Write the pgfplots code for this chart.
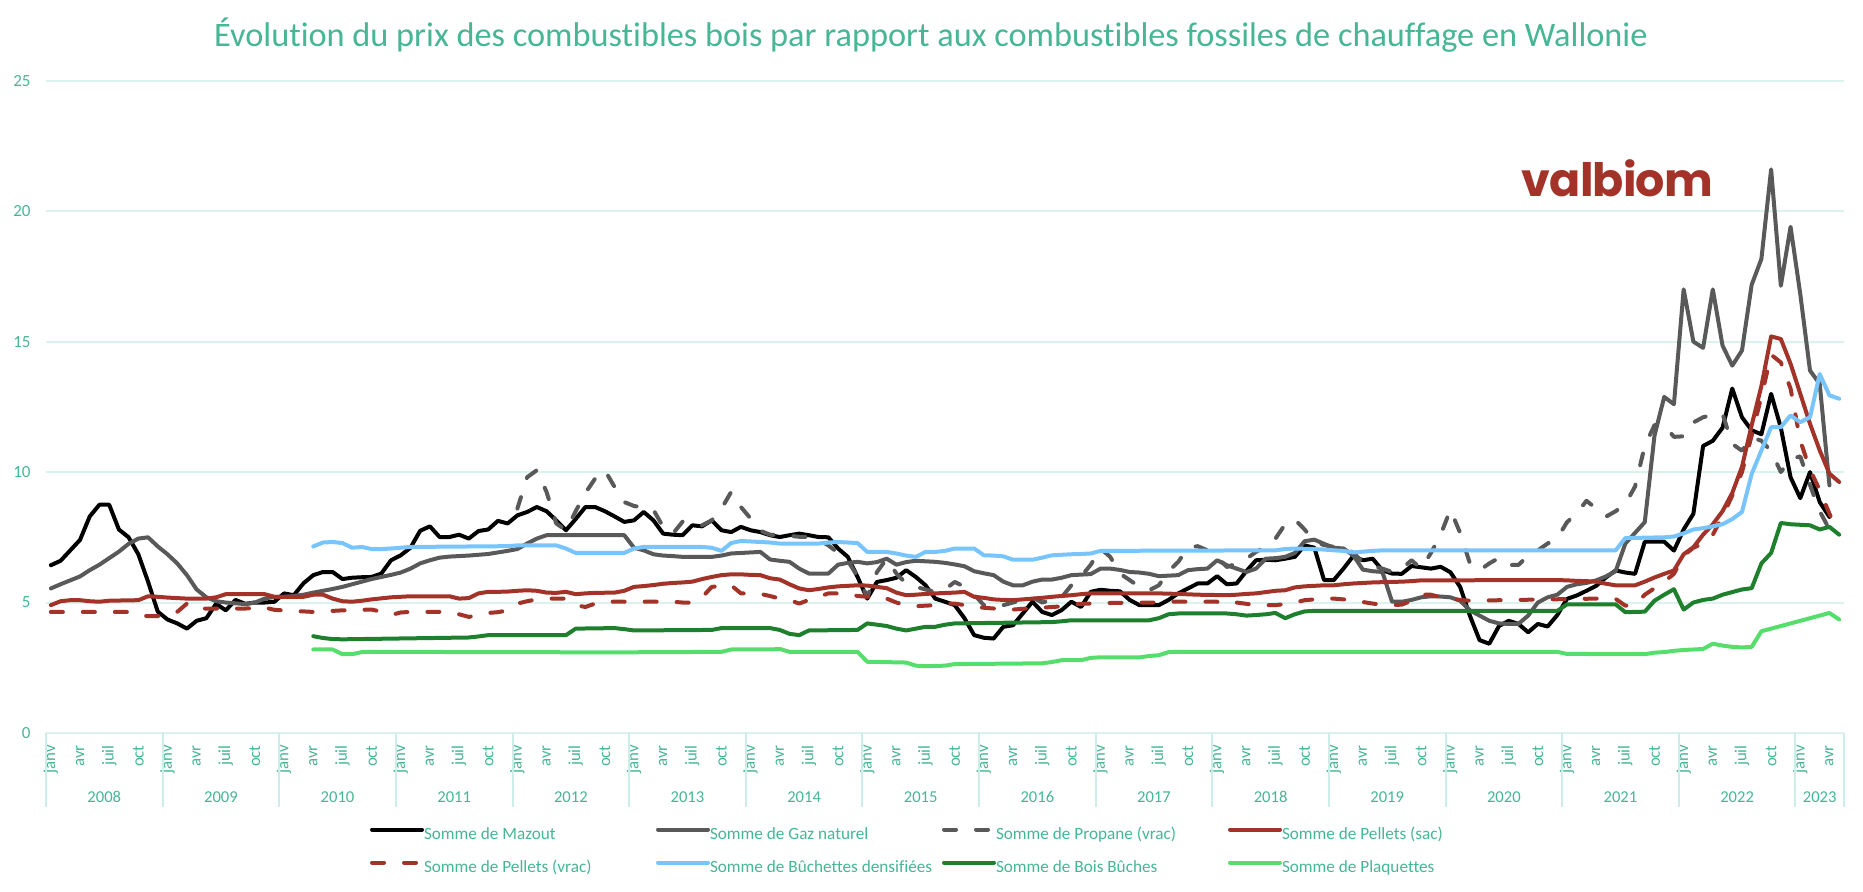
\documentclass[border=0pt]{standalone}
\usepackage{fontspec}
\setmainfont{Carlito}[Ligatures={NoCommon,NoRequired,NoContextual}]
\newfontfamily\logofont{Poppins}[LetterSpace=-2]
\usepackage{pgfplots}
\pgfplotsset{compat=1.18}
\definecolor{txt}{RGB}{70,182,148}
\definecolor{gridc}{RGB}{218,243,238}
\definecolor{sepc}{RGB}{205,238,232}
\definecolor{cMaz}{RGB}{0,0,0}
\definecolor{cGaz}{RGB}{89,89,89}
\definecolor{cPel}{RGB}{163,51,40}
\definecolor{cBuc}{RGB}{120,196,252}
\definecolor{cBois}{RGB}{30,128,44}
\definecolor{cPla}{RGB}{86,222,108}
\newcommand{\lgd}[1]{\makebox[114.5pt][l]{#1}}
\begin{document}
\begin{tikzpicture}
\path[use as bounding box] (0,0) rectangle (931.5pt,446pt);
\node[text=txt, font=\fontsize{17.15}{20}\selectfont, anchor=base, inner sep=0pt] at (465.5pt,422.5pt) {Évolut\kern0pt ion du prix des combust\kern0pt ibles bois par rapport aux combust\kern0pt ibles fossiles de chauffage en Wallonie};
\node[text=cPel, font=\logofont\bfseries\fontsize{23}{23}\selectfont, anchor=base, inner sep=0pt] at (808.7pt,347.6pt) {valbiom};
\begin{axis}[
  at={(23pt,79.5pt)}, anchor=south west,
  scale only axis, width=899pt, height=326.15pt,
  xmin=-0.5, xmax=184.5, ymin=0, ymax=25,
  ytick={0,5,...,25},
  xtick={0,3,...,183},
  xticklabels={janv,avr,juil,oct,janv,avr,juil,oct,janv,avr,juil,oct,janv,avr,juil,oct,janv,avr,juil,oct,janv,avr,juil,oct,janv,avr,juil,oct,janv,avr,juil,oct,janv,avr,juil,oct,janv,avr,juil,oct,janv,avr,juil,oct,janv,avr,juil,oct,janv,avr,juil,oct,janv,avr,juil,oct,janv,avr,juil,oct,janv,avr},
  axis line style={draw=none},
  major tick length=0pt,
  ymajorgrids, grid style={draw=gridc, line width=1pt},
  /pgf/number format/assume math mode=true,
  yticklabel style={text=txt, font=\fontsize{8.5}{10}\selectfont, anchor=east, inner sep=0pt, xshift=-7.5pt},
  xticklabel style={text=txt, font=\fontsize{8.4}{10}\selectfont, rotate=90, anchor=east, inner sep=0pt},
  xticklabel shift=6pt,
  clip=false,
  legend columns=4,
  legend cell align=left,
  legend style={at={(0.1802,-0.1435)}, anchor=north west, draw=none, fill=none, inner sep=0pt, outer sep=0pt, row sep=7.9pt, font=\fontsize{8.6}{10}\selectfont, text=txt, nodes={inner sep=0pt, text height=6.5pt, text depth=2.1pt}, /tikz/every even column/.append style={column sep=1.5pt}},
  legend image code/.code={\draw[#1] (0pt,2.8pt) -- (25pt,2.8pt);},
  every axis plot/.append style={line width=2pt, line join=round, line cap=round, mark=none},
]
% year separators
\pgfplotsinvokeforeach{-0.5,11.5,23.5,35.5,47.5,59.5,71.5,83.5,95.5,107.5,119.5,131.5,143.5,155.5,167.5,179.5,184.5}{
  \draw[sepc, line width=1pt] (axis cs:#1,0) -- ([yshift=-37pt]axis cs:#1,0);
}
\tikzset{yl/.style={text=txt, font=\fontsize{8.3}{10}\selectfont, yshift=-32pt, inner sep=0pt}}
\node[yl] at (axis cs:5.5,0) {2008};
\node[yl] at (axis cs:17.5,0) {2009};
\node[yl] at (axis cs:29.5,0) {2010};
\node[yl] at (axis cs:41.5,0) {2011};
\node[yl] at (axis cs:53.5,0) {2012};
\node[yl] at (axis cs:65.5,0) {2013};
\node[yl] at (axis cs:77.5,0) {2014};
\node[yl] at (axis cs:89.5,0) {2015};
\node[yl] at (axis cs:101.5,0) {2016};
\node[yl] at (axis cs:113.5,0) {2017};
\node[yl] at (axis cs:125.5,0) {2018};
\node[yl] at (axis cs:137.5,0) {2019};
\node[yl] at (axis cs:149.5,0) {2020};
\node[yl] at (axis cs:161.5,0) {2021};
\node[yl] at (axis cs:173.5,0) {2022};
\node[yl] at (axis cs:182,0) {2023};

% Mazout
\addplot[cMaz] coordinates {(0,6.43)(1,6.6)(2,7.0)(3,7.4)(4,8.3)(5,8.75)(6,8.75)(7,7.8)(8,7.5)(9,6.85)(10,5.8)(11,4.65)(12,4.35)(13,4.2)(14,4.0)(15,4.3)(16,4.4)(17,4.95)(18,4.7)(19,5.1)(20,4.95)(21,5.0)(22,5.0)(23,5.03)(24,5.35)(25,5.28)(26,5.74)(27,6.05)(28,6.17)(29,6.17)(30,5.9)(31,5.95)(32,5.97)(33,5.98)(34,6.11)(35,6.62)(36,6.81)(37,7.1)(38,7.75)(39,7.92)(40,7.51)(41,7.51)(42,7.6)(43,7.45)(44,7.74)(45,7.8)(46,8.13)(47,8.03)(48,8.34)(49,8.47)(50,8.66)(51,8.5)(52,8.15)(53,7.77)(54,8.2)(55,8.66)(56,8.66)(57,8.5)(58,8.3)(59,8.09)(60,8.15)(61,8.47)(62,8.15)(63,7.64)(64,7.6)(65,7.58)(66,7.96)(67,7.92)(68,8.15)(69,7.77)(70,7.7)(71,7.9)(72,7.77)(73,7.7)(74,7.58)(75,7.51)(76,7.58)(77,7.64)(78,7.58)(79,7.51)(80,7.5)(81,7.07)(82,6.75)(83,5.98)(84,5.15)(85,5.79)(86,5.86)(87,5.95)(88,6.24)(89,5.98)(90,5.66)(91,5.15)(92,5.03)(93,4.9)(94,4.4)(95,3.75)(96,3.65)(97,3.62)(98,4.07)(99,4.13)(100,4.58)(101,5.03)(102,4.64)(103,4.52)(104,4.71)(105,5.03)(106,4.83)(107,5.41)(108,5.49)(109,5.45)(110,5.43)(111,5.1)(112,4.9)(113,4.9)(114,4.9)(115,5.1)(116,5.35)(117,5.54)(118,5.73)(119,5.73)(120,6.01)(121,5.7)(122,5.73)(123,6.2)(124,6.62)(125,6.64)(126,6.62)(127,6.68)(128,6.75)(129,7.19)(130,7.1)(131,5.86)(132,5.86)(133,6.3)(134,6.78)(135,6.62)(136,6.68)(137,6.24)(138,6.11)(139,6.1)(140,6.4)(141,6.35)(142,6.3)(143,6.37)(144,6.16)(145,5.6)(146,4.5)(147,3.56)(148,3.42)(149,4.1)(150,4.3)(151,4.18)(152,3.86)(153,4.18)(154,4.08)(155,4.52)(156,5.14)(157,5.27)(158,5.45)(159,5.64)(160,5.96)(161,6.23)(162,6.15)(163,6.1)(164,7.33)(165,7.33)(166,7.33)(167,6.99)(168,7.8)(169,8.4)(170,11.0)(171,11.2)(172,11.7)(173,13.2)(174,12.1)(175,11.6)(176,11.45)(177,13.0)(178,11.7)(179,9.8)(180,9.0)(181,10.0)(182,8.85)(183,8.28)};
\addlegendentry{\lgd{Somme de Mazout}}
% Gaz naturel
\addplot[cGaz] coordinates {(0,5.54)(1,5.7)(2,5.85)(3,6.0)(4,6.24)(5,6.45)(6,6.7)(7,6.95)(8,7.25)(9,7.45)(10,7.5)(11,7.15)(12,6.85)(13,6.5)(14,6.05)(15,5.5)(16,5.2)(17,5.05)(18,5.0)(19,4.97)(20,4.94)(21,5.0)(22,5.15)(23,5.22)(24,5.22)(25,5.25)(26,5.3)(27,5.38)(28,5.45)(29,5.52)(30,5.6)(31,5.7)(32,5.8)(33,5.9)(34,5.98)(35,6.06)(36,6.15)(37,6.3)(38,6.5)(39,6.62)(40,6.72)(41,6.76)(42,6.78)(43,6.8)(44,6.83)(45,6.86)(46,6.92)(47,6.98)(48,7.05)(49,7.26)(50,7.45)(51,7.58)(59,7.58)(60,7.1)(61,7.0)(62,6.85)(63,6.8)(64,6.78)(65,6.75)(68,6.75)(69,6.8)(70,6.88)(71,6.9)(72,6.92)(73,6.94)(74,6.65)(75,6.6)(76,6.56)(77,6.3)(78,6.11)(80,6.11)(81,6.45)(82,6.52)(83,6.56)(84,6.5)(85,6.55)(86,6.68)(87,6.45)(88,6.55)(89,6.6)(90,6.58)(91,6.56)(92,6.52)(93,6.46)(94,6.39)(95,6.2)(96,6.12)(97,6.05)(98,5.8)(99,5.66)(100,5.66)(101,5.8)(102,5.88)(103,5.88)(104,5.95)(105,6.05)(106,6.07)(107,6.09)(108,6.3)(109,6.3)(110,6.25)(111,6.17)(112,6.15)(113,6.1)(114,6.01)(115,6.03)(116,6.05)(117,6.24)(118,6.28)(119,6.3)(120,6.62)(121,6.43)(122,6.3)(123,6.17)(124,6.3)(125,6.68)(126,6.7)(127,6.75)(128,6.9)(129,7.35)(130,7.41)(131,7.25)(132,7.1)(133,7.07)(134,6.81)(135,6.26)(136,6.2)(137,6.17)(138,5.03)(139,5.03)(140,5.1)(141,5.2)(142,5.24)(143,5.23)(144,5.2)(145,5.07)(146,4.7)(147,4.5)(148,4.3)(149,4.2)(150,4.18)(151,4.18)(152,4.5)(153,5.0)(154,5.2)(155,5.3)(156,5.6)(157,5.7)(158,5.75)(159,5.85)(160,6.0)(161,6.2)(162,7.26)(163,7.67)(164,8.08)(165,11.4)(166,12.88)(167,12.6)(168,17.0)(169,15.0)(170,14.76)(171,17.0)(172,14.85)(173,14.08)(174,14.66)(175,17.18)(176,18.17)(177,21.6)(178,17.14)(179,19.4)(180,16.82)(181,13.89)(182,13.38)(183,9.49)};
\addlegendentry{\lgd{Somme de Gaz naturel}}
% Propane (vrac)
\addplot[cGaz, dash pattern=on 6pt off 10pt] coordinates {(48,8.6)(49,9.8)(50,10.07)(51,9.24)(52,8.03)(53,7.77)(54,8.5)(55,9.2)(56,9.75)(57,10.07)(58,9.43)(59,8.85)(60,8.7)(61,8.64)(62,8.55)(63,7.9)(64,7.64)(65,8.1)(66,8.0)(67,7.96)(68,8.15)(69,8.6)(70,9.24)(71,8.66)(72,8.22)(73,7.75)(74,7.6)(75,7.58)(76,7.56)(77,7.52)(78,7.51)(79,7.4)(80,7.19)(81,6.9)(82,6.6)(83,6.0)(84,5.22)(85,6.17)(86,6.68)(87,6.11)(88,5.73)(89,5.6)(90,5.5)(91,5.4)(92,5.5)(93,5.79)(94,5.6)(95,5.3)(96,4.9)(97,4.83)(98,4.9)(99,5.0)(100,5.09)(101,5.2)(102,5.0)(103,5.1)(104,5.2)(105,5.66)(106,6.0)(107,6.45)(108,7.07)(109,6.75)(110,6.11)(111,5.86)(112,5.6)(113,5.47)(114,5.66)(115,6.2)(116,6.56)(117,7.1)(118,7.16)(119,7.0)(120,6.75)(121,6.36)(122,6.5)(123,6.68)(124,6.94)(125,7.15)(126,7.45)(127,8.0)(128,8.18)(129,7.8)(130,7.35)(131,7.2)(132,7.13)(133,7.16)(134,6.9)(135,6.55)(136,6.4)(137,6.3)(138,6.17)(139,6.3)(140,6.62)(141,6.3)(142,6.9)(143,7.6)(144,8.56)(145,7.67)(146,6.51)(147,6.23)(148,6.5)(149,6.71)(150,6.44)(151,6.44)(152,6.8)(153,7.0)(154,7.26)(155,7.47)(156,8.08)(157,8.42)(158,8.9)(159,8.6)(160,8.29)(161,8.5)(162,8.77)(163,9.45)(164,11.0)(165,11.8)(166,11.8)(167,11.35)(168,11.37)(169,11.9)(170,12.1)(171,12.2)(172,12.23)(173,11.08)(174,10.82)(175,11.33)(176,11.2)(177,10.8)(178,10.0)(179,10.5)(180,10.6)(181,9.5)(182,8.5)(183,7.8)(184,7.5)};
\addlegendentry{\lgd{Somme de Propane (vrac)}}
% Pellets (sac)
\addplot[cPel] coordinates {(0,4.9)(1,5.05)(2,5.09)(3,5.09)(4,5.05)(5,5.03)(6,5.07)(9,5.09)(10,5.24)(11,5.22)(12,5.19)(13,5.17)(14,5.15)(16,5.15)(17,5.2)(18,5.32)(22,5.32)(23,5.22)(26,5.22)(27,5.3)(28,5.3)(29,5.15)(30,5.05)(31,5.03)(32,5.07)(33,5.12)(34,5.16)(35,5.2)(36,5.22)(37,5.24)(41,5.24)(42,5.15)(43,5.17)(44,5.35)(45,5.41)(46,5.41)(47,5.42)(48,5.45)(49,5.47)(50,5.45)(51,5.38)(52,5.37)(53,5.41)(54,5.32)(55,5.35)(56,5.37)(58,5.38)(59,5.45)(60,5.6)(61,5.63)(62,5.67)(63,5.72)(64,5.75)(65,5.77)(66,5.8)(67,5.9)(68,5.98)(69,6.05)(70,6.08)(71,6.08)(72,6.06)(73,6.05)(74,5.93)(75,5.88)(76,5.7)(77,5.54)(78,5.47)(79,5.52)(80,5.58)(81,5.62)(82,5.64)(83,5.66)(84,5.65)(85,5.6)(86,5.55)(87,5.38)(88,5.28)(89,5.3)(90,5.33)(91,5.35)(93,5.38)(94,5.41)(95,5.22)(96,5.18)(97,5.12)(98,5.1)(99,5.09)(100,5.12)(101,5.15)(102,5.18)(103,5.22)(104,5.25)(105,5.28)(106,5.32)(107,5.35)(114,5.35)(116,5.33)(118,5.3)(121,5.28)(122,5.3)(123,5.33)(124,5.35)(125,5.4)(126,5.45)(127,5.47)(128,5.58)(129,5.62)(130,5.64)(131,5.66)(132,5.66)(133,5.7)(134,5.73)(135,5.75)(136,5.77)(137,5.78)(138,5.79)(139,5.8)(140,5.82)(141,5.85)(155,5.86)(156,5.85)(157,5.83)(158,5.82)(159,5.8)(160,5.72)(161,5.66)(163,5.66)(164,5.8)(165,5.96)(166,6.1)(167,6.23)(168,6.85)(169,7.12)(170,7.6)(171,8.0)(172,8.5)(173,9.2)(174,10.2)(175,11.8)(176,13.3)(177,15.2)(178,15.1)(179,14.15)(180,13.0)(181,11.85)(182,10.83)(183,9.94)(184,9.62)};
\addlegendentry{\lgd{Somme de Pellets (sac)}}
% Pellets (vrac)
\addplot[cPel, dash pattern=on 6pt off 10pt] coordinates {(0,4.64)(8,4.64)(9,4.5)(10,4.48)(11,4.48)(12,4.5)(13,4.64)(14,4.96)(15,4.75)(16,4.77)(20,4.77)(22,4.81)(23,4.72)(24,4.7)(25,4.67)(26,4.66)(27,4.64)(28,4.66)(29,4.68)(30,4.7)(31,4.71)(32,4.72)(33,4.73)(34,4.65)(35,4.52)(36,4.62)(37,4.64)(41,4.64)(42,4.55)(43,4.45)(44,4.52)(45,4.6)(46,4.63)(47,4.7)(48,4.96)(49,5.05)(50,5.12)(51,5.15)(53,5.15)(54,4.9)(55,4.83)(56,4.96)(57,5.03)(64,5.03)(65,5.0)(66,4.99)(67,5.2)(68,5.6)(69,5.63)(70,5.66)(71,5.35)(72,5.35)(73,5.33)(74,5.25)(75,5.15)(76,5.09)(77,4.96)(78,5.1)(79,5.22)(80,5.35)(82,5.35)(83,5.25)(84,5.22)(85,5.28)(86,5.15)(87,5.0)(88,4.9)(89,4.86)(90,4.88)(91,4.9)(92,4.96)(93,4.96)(94,4.9)(95,4.83)(96,4.8)(97,4.77)(98,4.75)(99,4.73)(100,4.76)(101,4.78)(102,4.8)(103,4.83)(104,4.85)(105,4.93)(106,4.95)(107,4.96)(108,4.98)(114,5.0)(115,5.03)(120,5.03)(121,4.92)(122,5.0)(123,4.95)(124,4.9)(126,4.9)(127,4.94)(128,5.0)(129,5.09)(130,5.12)(131,5.15)(132,5.15)(133,5.12)(134,5.09)(135,5.02)(136,4.96)(137,4.92)(138,4.9)(139,4.92)(140,5.07)(141,5.3)(142,5.3)(143,5.2)(144,5.15)(145,5.1)(146,5.07)(159,5.15)(160,5.2)(161,5.14)(162,4.88)(163,4.93)(164,5.3)(165,5.55)(166,5.8)(167,6.1)(168,6.8)(169,7.1)(170,7.26)(171,7.6)(172,8.3)(173,9.1)(174,10.0)(175,11.4)(176,12.9)(177,14.5)(178,14.2)(179,13.2)(180,11.2)(181,10.1)(182,9.3)(183,8.4)(184,7.7)};
\addlegendentry{\lgd{Somme de Pellets (vrac)}}
% Buchettes densifiees
\addplot[cBuc] coordinates {(27,7.15)(28,7.3)(29,7.32)(30,7.28)(31,7.1)(32,7.13)(33,7.05)(34,7.05)(35,7.07)(36,7.1)(37,7.13)(47,7.16)(48,7.19)(52,7.19)(53,7.07)(54,6.9)(59,6.9)(60,7.07)(61,7.13)(67,7.13)(68,7.1)(69,6.98)(70,7.28)(71,7.36)(72,7.34)(73,7.32)(74,7.3)(75,7.26)(79,7.26)(80,7.3)(81,7.32)(82,7.3)(83,7.28)(84,6.94)(86,6.94)(87,6.88)(88,6.8)(89,6.75)(90,6.94)(91,6.94)(92,6.98)(93,7.07)(95,7.07)(96,6.81)(97,6.8)(98,6.77)(99,6.64)(101,6.64)(102,6.72)(103,6.81)(104,6.83)(105,6.85)(106,6.86)(107,6.88)(108,6.98)(126,7.0)(127,7.05)(128,7.07)(130,7.05)(131,7.03)(132,7.0)(133,6.98)(134,6.92)(135,6.95)(136,6.98)(137,7.0)(161,7.0)(162,7.47)(166,7.5)(167,7.53)(168,7.65)(169,7.8)(170,7.85)(171,7.92)(172,8.0)(173,8.2)(174,8.47)(175,9.93)(176,10.83)(177,11.72)(178,11.72)(179,12.17)(180,11.91)(181,12.1)(182,13.76)(183,12.94)(184,12.81)};
\addlegendentry{\lgd{Somme de Bûchettes densifiées}}
% Bois Buches
\addplot[cBois] coordinates {(27,3.71)(28,3.64)(29,3.6)(30,3.59)(43,3.66)(44,3.7)(45,3.75)(53,3.75)(54,4.0)(58,4.02)(59,3.98)(60,3.93)(68,3.95)(69,4.02)(74,4.02)(75,3.95)(76,3.8)(77,3.75)(78,3.93)(83,3.95)(84,4.2)(85,4.15)(86,4.1)(87,4.0)(88,3.93)(89,4.0)(90,4.07)(91,4.07)(92,4.15)(93,4.2)(103,4.25)(104,4.28)(105,4.32)(113,4.32)(114,4.4)(115,4.55)(116,4.58)(121,4.58)(122,4.55)(123,4.5)(124,4.52)(125,4.55)(126,4.6)(127,4.4)(128,4.55)(129,4.66)(130,4.68)(155,4.68)(156,4.93)(161,4.93)(162,4.63)(164,4.65)(165,5.07)(166,5.3)(167,5.51)(168,4.73)(169,5.0)(170,5.1)(171,5.15)(172,5.3)(173,5.4)(174,5.5)(175,5.55)(176,6.5)(177,6.9)(178,8.05)(179,8.0)(180,7.98)(181,7.96)(182,7.8)(183,7.9)(184,7.6)};
\addlegendentry{\lgd{Somme de Bois Bûches}}
% Plaquettes
\addplot[cPla] coordinates {(27,3.2)(29,3.2)(30,3.02)(31,3.02)(32,3.1)(33,3.11)(58,3.09)(69,3.11)(70,3.2)(74,3.2)(75,3.22)(76,3.11)(83,3.11)(84,2.73)(88,2.7)(89,2.58)(90,2.56)(92,2.58)(93,2.64)(102,2.67)(103,2.72)(104,2.79)(106,2.79)(107,2.88)(108,2.9)(112,2.9)(113,2.95)(114,2.98)(115,3.1)(116,3.11)(155,3.11)(156,3.03)(164,3.02)(165,3.08)(166,3.1)(167,3.15)(168,3.18)(169,3.2)(170,3.22)(171,3.42)(172,3.35)(173,3.3)(174,3.28)(175,3.3)(176,3.9)(177,4.0)(178,4.1)(179,4.2)(180,4.3)(181,4.4)(182,4.5)(183,4.6)(184,4.35)};
\addlegendentry{Somme de Plaquettes}
\end{axis}
\end{tikzpicture}
\end{document}
